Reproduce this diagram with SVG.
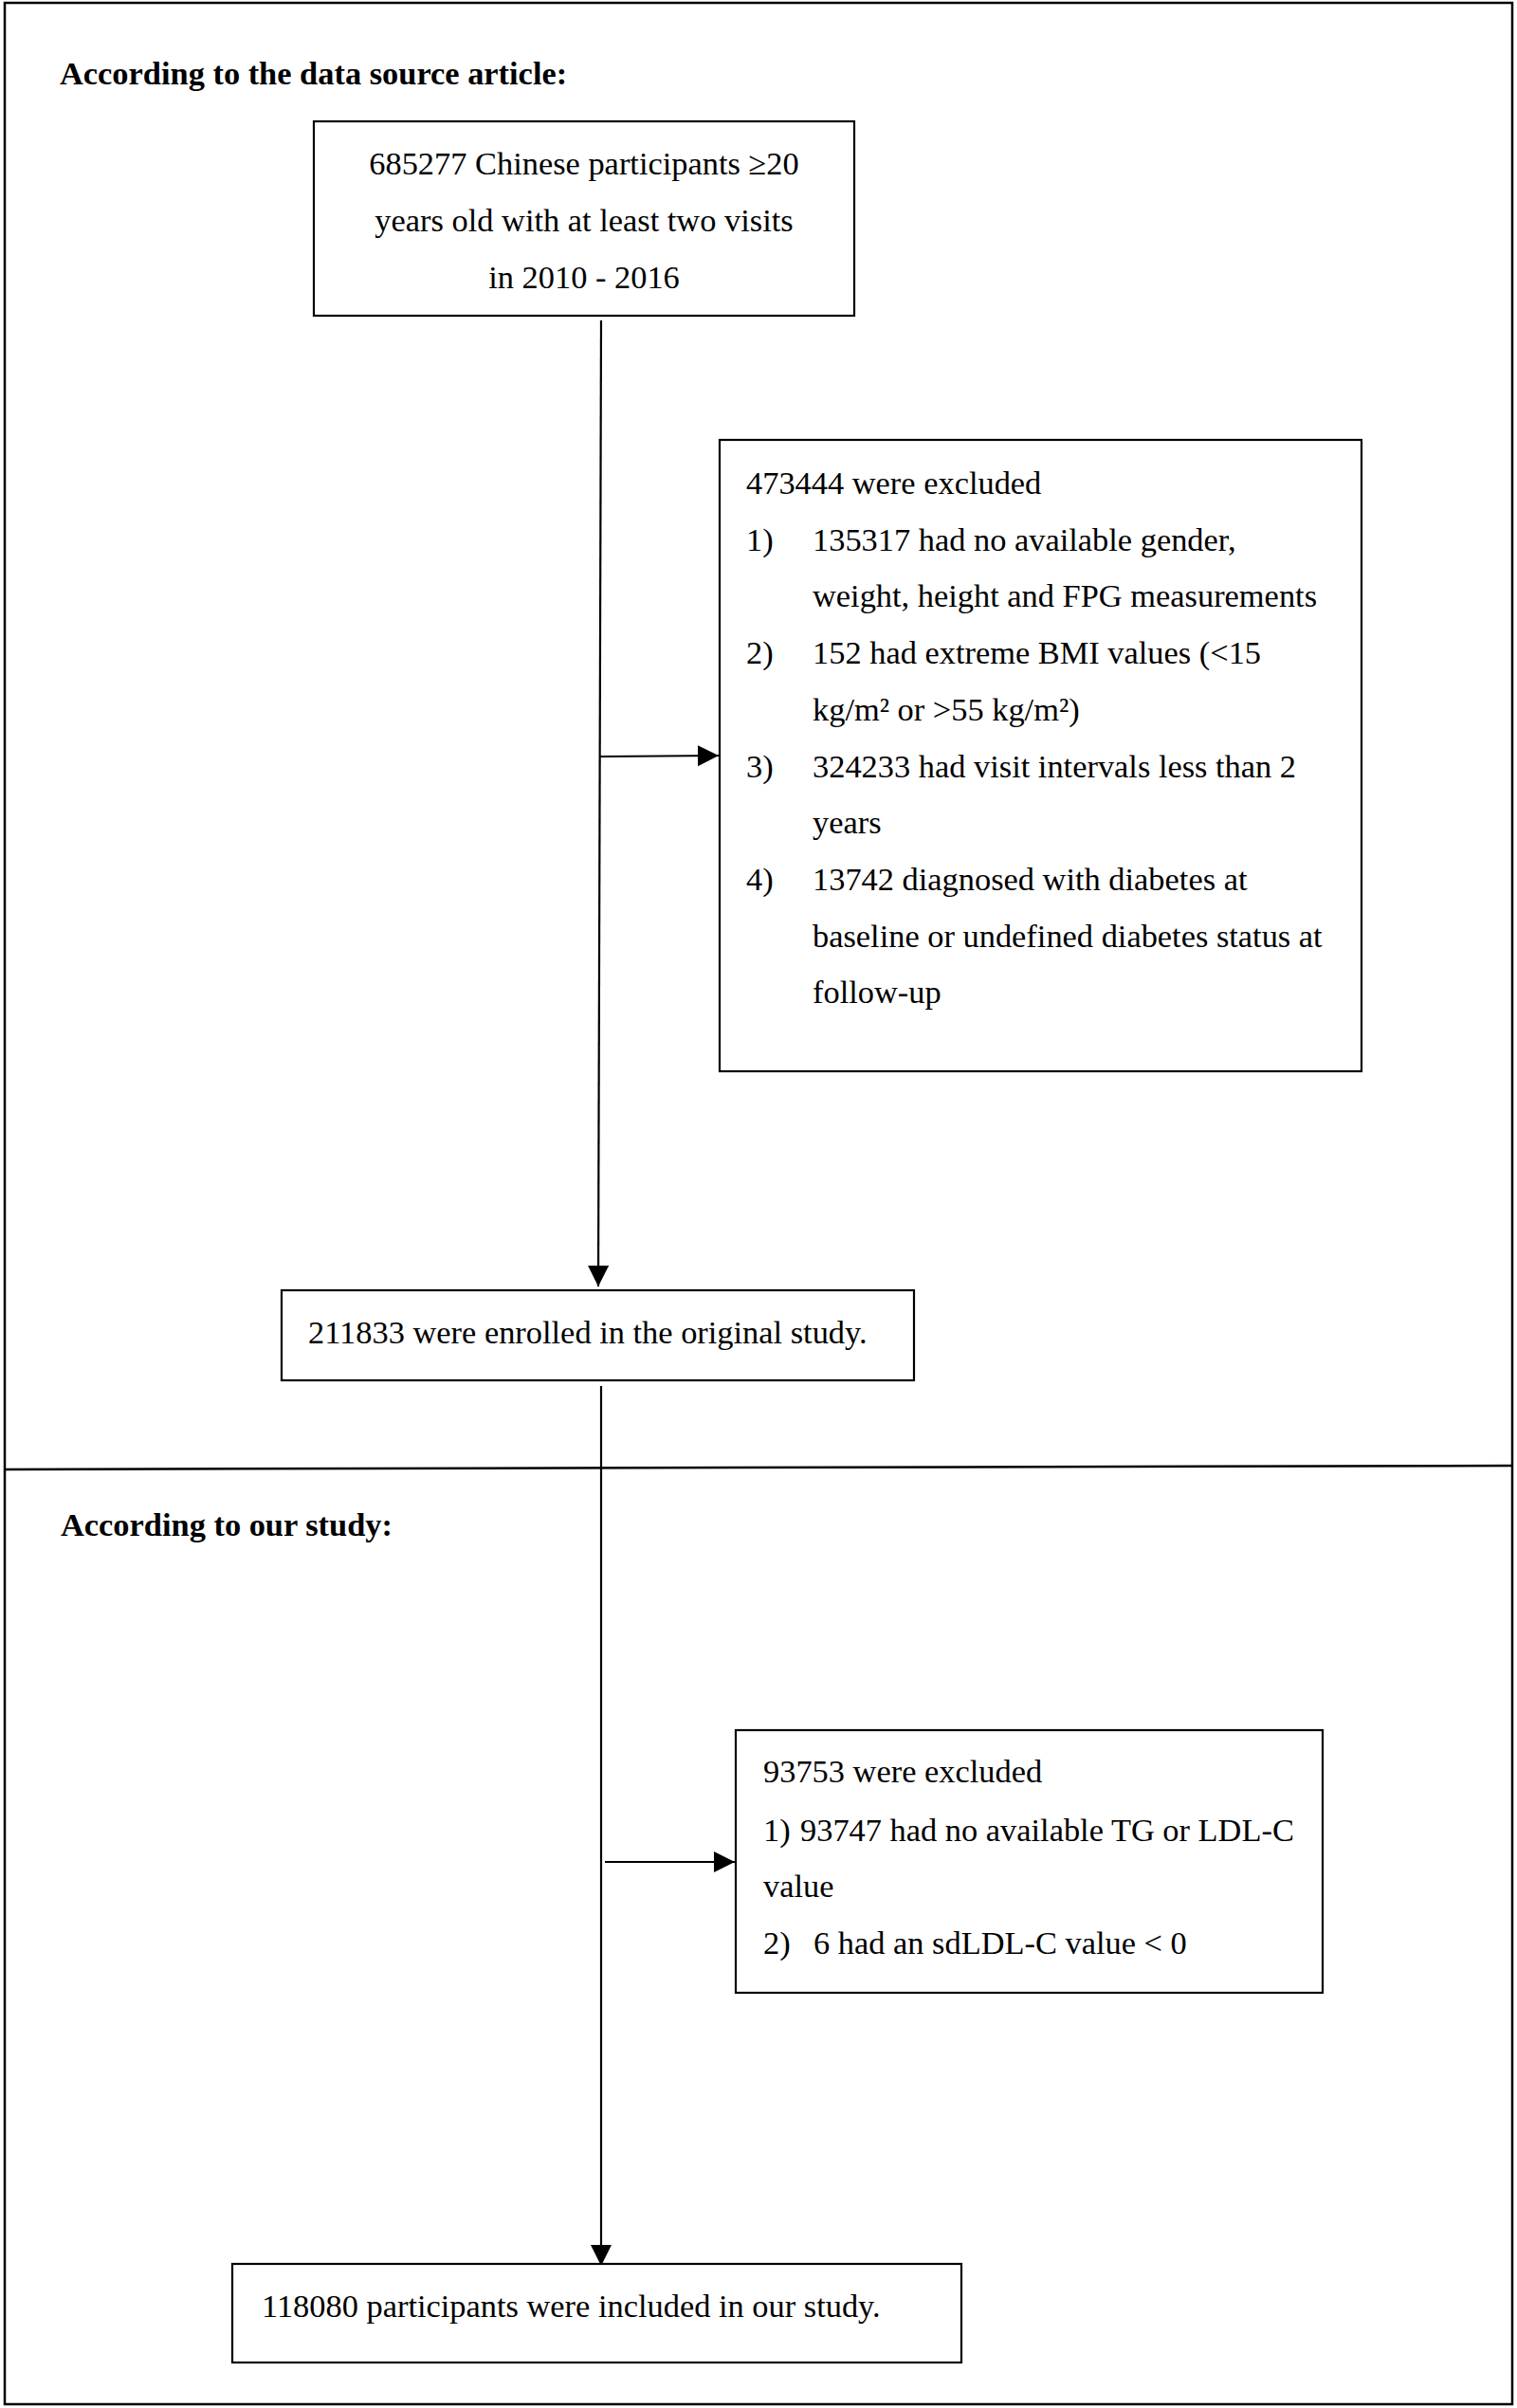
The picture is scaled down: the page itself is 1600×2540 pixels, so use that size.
<svg xmlns="http://www.w3.org/2000/svg" width="1600" height="2540" viewBox="0 0 1600 2540">
<style>
.bx{fill:#fff;stroke:#000;stroke-width:2.2}
.t{font-family:"Liberation Serif","Times New Roman",serif;font-size:34.4px;fill:#000}
.h{font-family:"Liberation Serif","Times New Roman",serif;font-size:34.4px;font-weight:bold;fill:#000}
.c{stroke:#000;stroke-width:2.2;fill:none}
.frame{stroke:#000;stroke-width:2.5;fill:none}
</style>
<defs>
<marker id="ah" markerUnits="userSpaceOnUse" markerWidth="24" markerHeight="24" refX="22" refY="11" orient="auto">
<path d="M0,0 L22,11 L0,22 Z" fill="#000"/>
</marker>
</defs>
<rect width="1600" height="2540" fill="#fff"/>
<g id="frame">
<rect class="frame" x="5" y="3" width="1590" height="2533"/>
<line class="frame" x1="5" y1="1550" x2="1595" y2="1546"/>
</g>
<g id="section1">
<text class="h" x="63" y="89">According to the data source article:</text>
</g>
<g id="section2">
<text class="h" x="64" y="1620">According to our study:</text>
</g>
<g id="connectors">
<line class="c" x1="634" y1="338" x2="631" y2="1357" marker-end="url(#ah)"/>
<line class="c" x1="633" y1="798" x2="758" y2="797" marker-end="url(#ah)"/>
<line class="c" x1="634" y1="1462" x2="634" y2="2390" marker-end="url(#ah)"/>
<line class="c" x1="638" y1="1964" x2="775" y2="1964" marker-end="url(#ah)"/>
</g>
<g id="node-start">
<rect class="bx" x="331" y="128" width="570" height="205"/>
<text class="t" x="616" y="184" text-anchor="middle">685277 Chinese participants ≥20</text>
<text class="t" x="616" y="244" text-anchor="middle">years old with at least two visits</text>
<text class="t" x="616" y="304" text-anchor="middle">in 2010 - 2016</text>
</g>
<g id="node-excluded1">
<rect class="bx" x="759" y="464" width="677" height="666"/>
<text class="t" x="787" y="521">473444 were excluded</text>
<text class="t" x="787" y="581">1)</text>
<text class="t" x="857" y="581">135317 had no available gender,</text>
<text class="t" x="857" y="640">weight, height and FPG measurements</text>
<text class="t" x="787" y="700">2)</text>
<text class="t" x="857" y="700">152 had extreme BMI values (&lt;15</text>
<text class="t" x="857" y="760">kg/m² or &gt;55 kg/m²)</text>
<text class="t" x="787" y="820">3)</text>
<text class="t" x="857" y="820">324233 had visit intervals less than 2</text>
<text class="t" x="857" y="879">years</text>
<text class="t" x="787" y="939">4)</text>
<text class="t" x="857" y="939">13742 diagnosed with diabetes at</text>
<text class="t" x="857" y="999">baseline or undefined diabetes status at</text>
<text class="t" x="857" y="1058">follow-up</text>
</g>
<g id="node-enrolled">
<rect class="bx" x="297" y="1361" width="667" height="95"/>
<text class="t" x="325" y="1417">211833 were enrolled in the original study.</text>
</g>
<g id="node-excluded2">
<rect class="bx" x="776" y="1825" width="619" height="277"/>
<text class="t" x="805" y="1880">93753 were excluded</text>
<text class="t" x="805" y="1942">1)</text>
<text class="t" x="844" y="1942">93747 had no available TG or LDL-C</text>
<text class="t" x="805" y="2001">value</text>
<text class="t" x="805" y="2061">2)</text>
<text class="t" x="858" y="2061">6 had an sdLDL-C value &lt; 0</text>
</g>
<g id="node-included">
<rect class="bx" x="245" y="2388" width="769" height="104"/>
<text class="t" x="276" y="2444">118080 participants were included in our study.</text>
</g>
</svg>
